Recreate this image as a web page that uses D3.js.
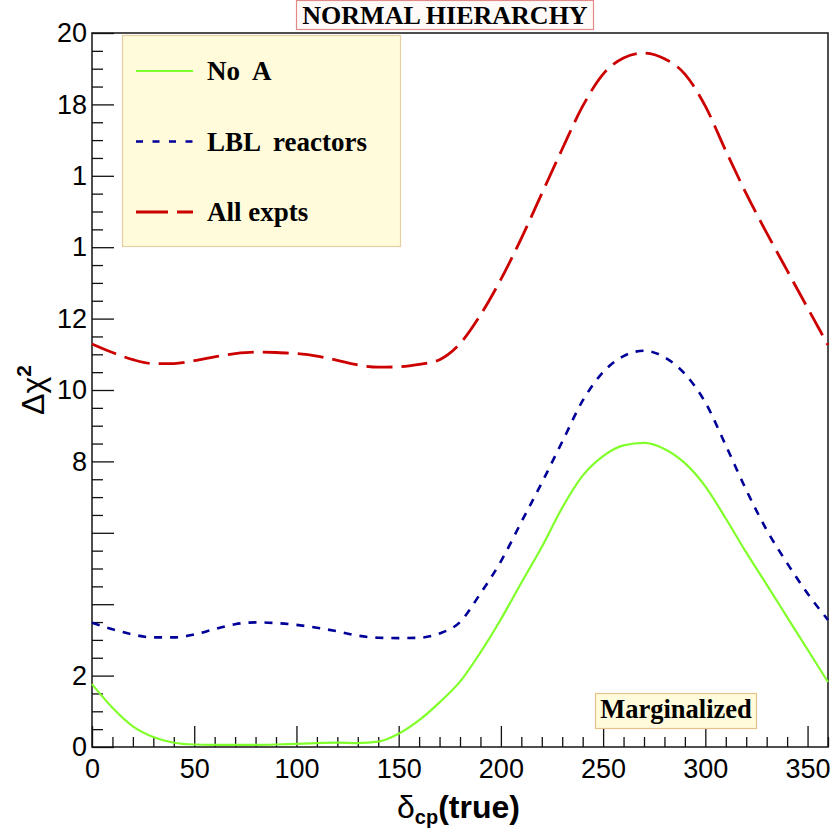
<!DOCTYPE html>
<html>
<head>
<meta charset="utf-8">
<script src="https://cdn.jsdelivr.net/npm/d3@7"></script>
<style>
  body { margin: 0; background: #fff; }
  svg text { white-space: pre; }
</style>
</head>
<body>
<svg id="chart" width="832" height="834"></svg>
<script>
// delta_cp (true) sample points, degrees
let deltaCP = [0, 10, 20, 30, 40, 50, 60, 70, 80, 90, 100, 110, 120, 130, 140, 150, 160, 170, 180,
  190, 200, 210, 220, 230, 240, 250, 260, 270, 280, 290, 300, 310, 320, 330, 340, 350, 360];

// Δχ² for each case
let noA = [1.76, 1.1, 0.58, 0.28, 0.12, 0.07, 0.06, 0.06, 0.06, 0.07, 0.09, 0.11, 0.12, 0.11, 0.15, 0.37, 0.75, 1.25, 1.83,
  2.65, 3.58, 4.6, 5.6, 6.7, 7.6, 8.15, 8.45, 8.52, 8.35, 7.95, 7.3, 6.4, 5.45, 4.55, 3.64, 2.73, 1.82];
let lblReactors = [3.48, 3.3, 3.15, 3.07, 3.07, 3.15, 3.3, 3.44, 3.49, 3.47, 3.42, 3.34, 3.24, 3.12, 3.06, 3.05, 3.06, 3.18, 3.5,
  4.3, 5.2, 6.3, 7.4, 8.55, 9.7, 10.5, 10.95, 11.1, 10.92, 10.45, 9.65, 8.45, 7.2, 6.08, 5.15, 4.3, 3.56];
let allExpts = [11.29, 11.05, 10.85, 10.74, 10.74, 10.82, 10.93, 11.02, 11.06, 11.05, 11.02, 10.95, 10.83, 10.7, 10.64, 10.65, 10.72, 10.85, 11.3,
  12.1, 13.1, 14.25, 15.5, 16.75, 17.95, 18.85, 19.3, 19.44, 19.28, 18.85, 17.95, 16.7, 15.5, 14.4, 13.35, 12.3, 11.26];

let seriesNames = ['No  A', 'LBL  reactors', 'All expts'];
let seriesColors = ['#80ff2a', '#000099', '#cc0000'];
let seriesDash = [null, '8,8', '26,9'];
let seriesWidth = [2.2, 2.6, 2.8];

let xMajorTicks = [0, 50, 100, 150, 200, 250, 300, 350];
let yMajorTicks = [0, 2, 4, 6, 8, 10, 12, 14, 16, 18, 20];
let yTickLabels = ['0', '2', '', '', '8', '10', '12', '1', '1', '18', '20'];

let titleText = 'NORMAL HIERARCHY';
let boxText = 'Marginalized';

let svg = d3.select('#chart');
let plotL = 92, plotR = 828, plotT = 33, plotB = 747;

let x = d3.scaleLinear().domain([0, 360]).range([plotL, plotR]);
let y = d3.scaleLinear().domain([0, 20]).range([plotB, plotT]);

// frame
svg.append('rect')
  .attr('x', plotL).attr('y', plotT)
  .attr('width', plotR - plotL).attr('height', plotB - plotT)
  .attr('fill', 'none').attr('stroke', '#222').attr('stroke-width', 1.6);

// minor ticks
let yMinor = d3.range(0, 20.01, 0.5).filter(v => yMajorTicks.indexOf(v) < 0);
svg.append('g')
  .attr('transform', `translate(${plotL},0)`)
  .call(d3.axisLeft(y).tickValues(yMinor).tickSizeInner(-11).tickSizeOuter(0).tickFormat(''))
  .call(g => g.select('.domain').remove());
let xMinor = d3.range(0, 361, 10).filter(v => xMajorTicks.indexOf(v) < 0);
svg.append('g')
  .attr('transform', `translate(0,${plotB})`)
  .call(d3.axisBottom(x).tickValues(xMinor).tickSizeInner(-10).tickSizeOuter(0).tickFormat(''))
  .call(g => g.select('.domain').remove());

// major ticks + labels
let yAxis = svg.append('g')
  .attr('transform', `translate(${plotL},0)`)
  .call(d3.axisLeft(y).tickValues(yMajorTicks).tickSizeInner(-22).tickSizeOuter(0).tickPadding(5)
    .tickFormat((d, i) => yTickLabels[i]));
let xAxis = svg.append('g')
  .attr('transform', `translate(0,${plotB})`)
  .call(d3.axisBottom(x).tickValues(xMajorTicks).tickSizeInner(-21).tickSizeOuter(0).tickPadding(12));

[xAxis, yAxis].forEach(g => {
  g.select('.domain').remove();
  g.selectAll('text')
    .attr('font-family', 'Liberation Sans, Arial, sans-serif')
    .attr('font-size', 27).attr('fill', '#000');
});
svg.selectAll('.tick line').attr('stroke', '#111').attr('stroke-width', 1.3);

// curves
let allSeries = [noA, lblReactors, allExpts];
let line = d3.line()
  .x((d, i) => x(deltaCP[i]))
  .y(d => y(d))
  .curve(d3.curveMonotoneX);

allSeries.forEach((vals, k) => {
  svg.append('path')
    .datum(vals)
    .attr('d', line)
    .attr('fill', 'none')
    .attr('stroke', seriesColors[k])
    .attr('stroke-width', seriesWidth[k])
    .attr('stroke-dasharray', seriesDash[k]);
});

// legend
svg.append('rect')
  .attr('x', 122.5).attr('y', 35.5).attr('width', 278).attr('height', 211)
  .attr('fill', '#fffbdb').attr('stroke', '#e6cfa0').attr('stroke-width', 1.2);
let legendY = [71, 141.5, 212];
seriesNames.forEach((name, k) => {
  svg.append('line')
    .attr('x1', 136).attr('x2', 193)
    .attr('y1', legendY[k]).attr('y2', legendY[k])
    .attr('stroke', seriesColors[k])
    .attr('stroke-width', seriesWidth[k])
    .attr('stroke-dasharray', seriesDash[k] ? (k === 1 ? '7,9.5' : '32,9') : null);
  svg.append('text')
    .attr('x', 207).attr('y', legendY[k] + 9)
    .attr('font-family', 'Liberation Serif, Times New Roman, serif')
    .attr('font-weight', 'bold').attr('font-size', 27)
    .text(name);
});

// title
svg.append('rect')
  .attr('x', 296.5).attr('y', 0.5).attr('width', 297).attr('height', 29)
  .attr('fill', '#fffaf7').attr('stroke', '#e08a8a').attr('stroke-width', 1.2);
svg.append('text')
  .attr('x', 445).attr('y', 24)
  .attr('text-anchor', 'middle')
  .attr('font-family', 'Liberation Serif, Times New Roman, serif')
  .attr('font-weight', 'bold').attr('font-size', 26)
  .text(titleText);

// marginalized label
svg.append('rect')
  .attr('x', 595.5).attr('y', 693.5).attr('width', 161).attr('height', 35)
  .attr('fill', '#fffbdb').attr('stroke', '#e6c08a').attr('stroke-width', 1.2);
svg.append('text')
  .attr('x', 676).attr('y', 718)
  .attr('text-anchor', 'middle')
  .attr('font-family', 'Liberation Serif, Times New Roman, serif')
  .attr('font-weight', 'bold').attr('font-size', 26.5)
  .text(boxText);

// axis titles
let xt = svg.append('text')
  .attr('x', 397).attr('y', 818)
  .attr('font-family', 'Liberation Sans, Arial, sans-serif')
  .attr('font-weight', 'bold').attr('font-size', 32);
xt.append('tspan').attr('font-weight', 'normal').text('δ');
xt.append('tspan').attr('font-size', 20).attr('dy', 6).text('cp');
xt.append('tspan').attr('dy', -6).text('(true)');

let yt = svg.append('text')
  .attr('transform', 'translate(44,390) rotate(-90)')
  .attr('text-anchor', 'middle')
  .attr('font-family', 'Liberation Sans, Arial, sans-serif')
  .attr('font-size', 32);
yt.append('tspan').text('Δχ');
yt.append('tspan').attr('font-size', 21).attr('font-weight', 'bold').attr('dy', -13).text('2');
</script>
</body>
</html>
